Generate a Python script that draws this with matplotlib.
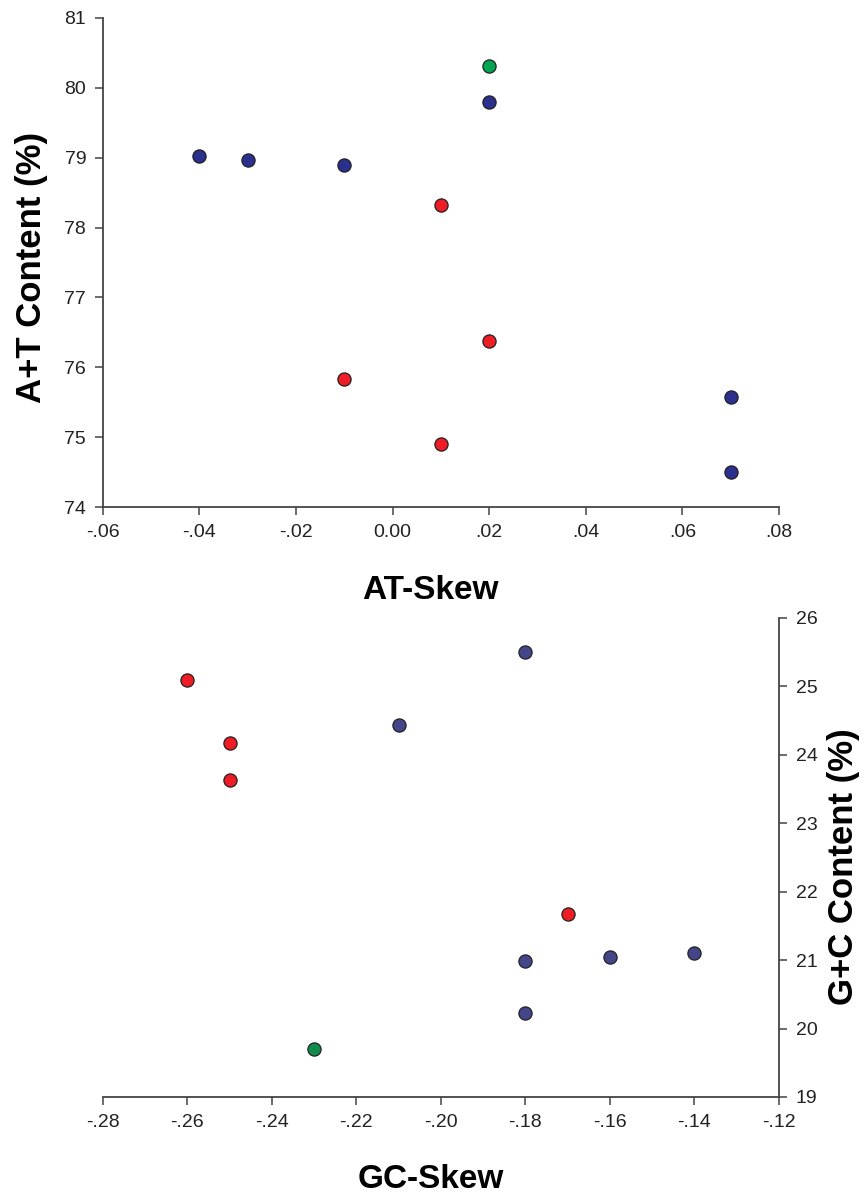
import matplotlib
matplotlib.use("Agg")
import matplotlib.pyplot as plt

# ---- Data: top panel (AT-Skew vs A+T content) ----
at_blue_x = [-0.04, -0.03, -0.01, 0.02, 0.07, 0.07]
at_blue_y = [79.02, 78.96, 78.89, 79.79, 75.57, 74.50]
at_red_x = [0.01, 0.02, -0.01, 0.01]
at_red_y = [78.32, 76.37, 75.83, 74.90]
at_green_x = [0.02]
at_green_y = [80.31]

at_xticks = [-0.06, -0.04, -0.02, 0.00, 0.02, 0.04, 0.06, 0.08]
at_xticklabels = ["-.06", "-.04", "-.02", "0.00", ".02", ".04", ".06", ".08"]
at_yticks = [74, 75, 76, 77, 78, 79, 80, 81]

# ---- Data: bottom panel (GC-Skew vs G+C content) ----
gc_blue_x = [-0.18, -0.21, -0.18, -0.16, -0.14, -0.18]
gc_blue_y = [25.50, 24.43, 20.98, 21.05, 21.11, 20.22]
gc_red_x = [-0.26, -0.25, -0.25, -0.17]
gc_red_y = [25.10, 24.17, 23.63, 21.68]
gc_green_x = [-0.23]
gc_green_y = [19.70]

gc_xticks = [-0.28, -0.26, -0.24, -0.22, -0.20, -0.18, -0.16, -0.14, -0.12]
gc_xticklabels = ["-.28", "-.26", "-.24", "-.22", "-.20", "-.18", "-.16", "-.14", "-.12"]
gc_yticks = [19, 20, 21, 22, 23, 24, 25, 26]

tickfont = ["Liberation Sans Narrow", "Liberation Sans", "DejaVu Sans"]
wide = ["Liberation Sans", "DejaVu Sans"]

fig = plt.figure(figsize=(8.64, 11.96), dpi=100)
ax1 = fig.add_axes([0.119, 0.576, 0.7826, 0.409])
ax2 = fig.add_axes([0.119, 0.0828, 0.7826, 0.4005])

spine_c = "#444444"
ms = 90
ew = 0.9

def style(ax, side):
    for s in ["top", "right", "left", "bottom"]:
        ax.spines[s].set_visible(False)
    ax.spines["bottom"].set_visible(True)
    ax.spines[side].set_visible(True)
    for s in ["bottom", side]:
        ax.spines[s].set_color(spine_c)
        ax.spines[s].set_linewidth(1.3)
    ax.tick_params(direction="out", length=6, width=1.1, color=spine_c,
                   labelsize=14, labelcolor="#222222", pad=6)
    for lab in ax.get_xticklabels() + ax.get_yticklabels():
        lab.set_family(tickfont)

# Top panel
ax1.scatter(at_blue_x, at_blue_y, s=ms, c="#2b2f8e", edgecolors="#222222", linewidths=ew, zorder=3)
ax1.scatter(at_red_x, at_red_y, s=ms, c="#ee1c25", edgecolors="#222222", linewidths=ew, zorder=3)
ax1.scatter(at_green_x, at_green_y, s=ms, c="#00a551", edgecolors="#222222", linewidths=ew, zorder=3)
ax1.set_xlim(-0.06, 0.08)
ax1.set_ylim(74, 81)
ax1.set_xticks(at_xticks)
ax1.set_xticklabels(at_xticklabels)
ax1.set_yticks(at_yticks)
style(ax1, "left")
ax1.set_xlabel("AT-Skew", fontsize=24, fontweight="bold", family=wide, va="center")
ax1.xaxis.set_label_coords(0.485, -0.17)
ax1.set_ylabel("A+T Content (%)", fontsize=25, fontweight="bold", family=wide, va="center")
ax1.yaxis.set_label_coords(-0.105, 0.49)

# Bottom panel
ax2.scatter(gc_blue_x, gc_blue_y, s=ms, c="#45458a", edgecolors="#222222", linewidths=ew, zorder=3)
ax2.scatter(gc_red_x, gc_red_y, s=ms, c="#ee1c25", edgecolors="#222222", linewidths=ew, zorder=3)
ax2.scatter(gc_green_x, gc_green_y, s=ms, c="#138b4d", edgecolors="#222222", linewidths=ew, zorder=3)
ax2.set_xlim(-0.28, -0.12)
ax2.set_ylim(19, 26)
ax2.set_xticks(gc_xticks)
ax2.set_xticklabels(gc_xticklabels)
ax2.yaxis.tick_right()
ax2.yaxis.set_label_position("right")
ax2.set_yticks(gc_yticks)
style(ax2, "right")
ax2.set_xlabel("GC-Skew", fontsize=24, fontweight="bold", family=wide, va="center")
ax2.xaxis.set_label_coords(0.485, -0.172)
ax2.set_ylabel("G+C Content (%)", fontsize=25, fontweight="bold", family=wide, va="center",
               rotation=90)
ax2.yaxis.set_label_coords(1.095, 0.48)

fig.savefig("out.png", dpi=100, facecolor="white")
